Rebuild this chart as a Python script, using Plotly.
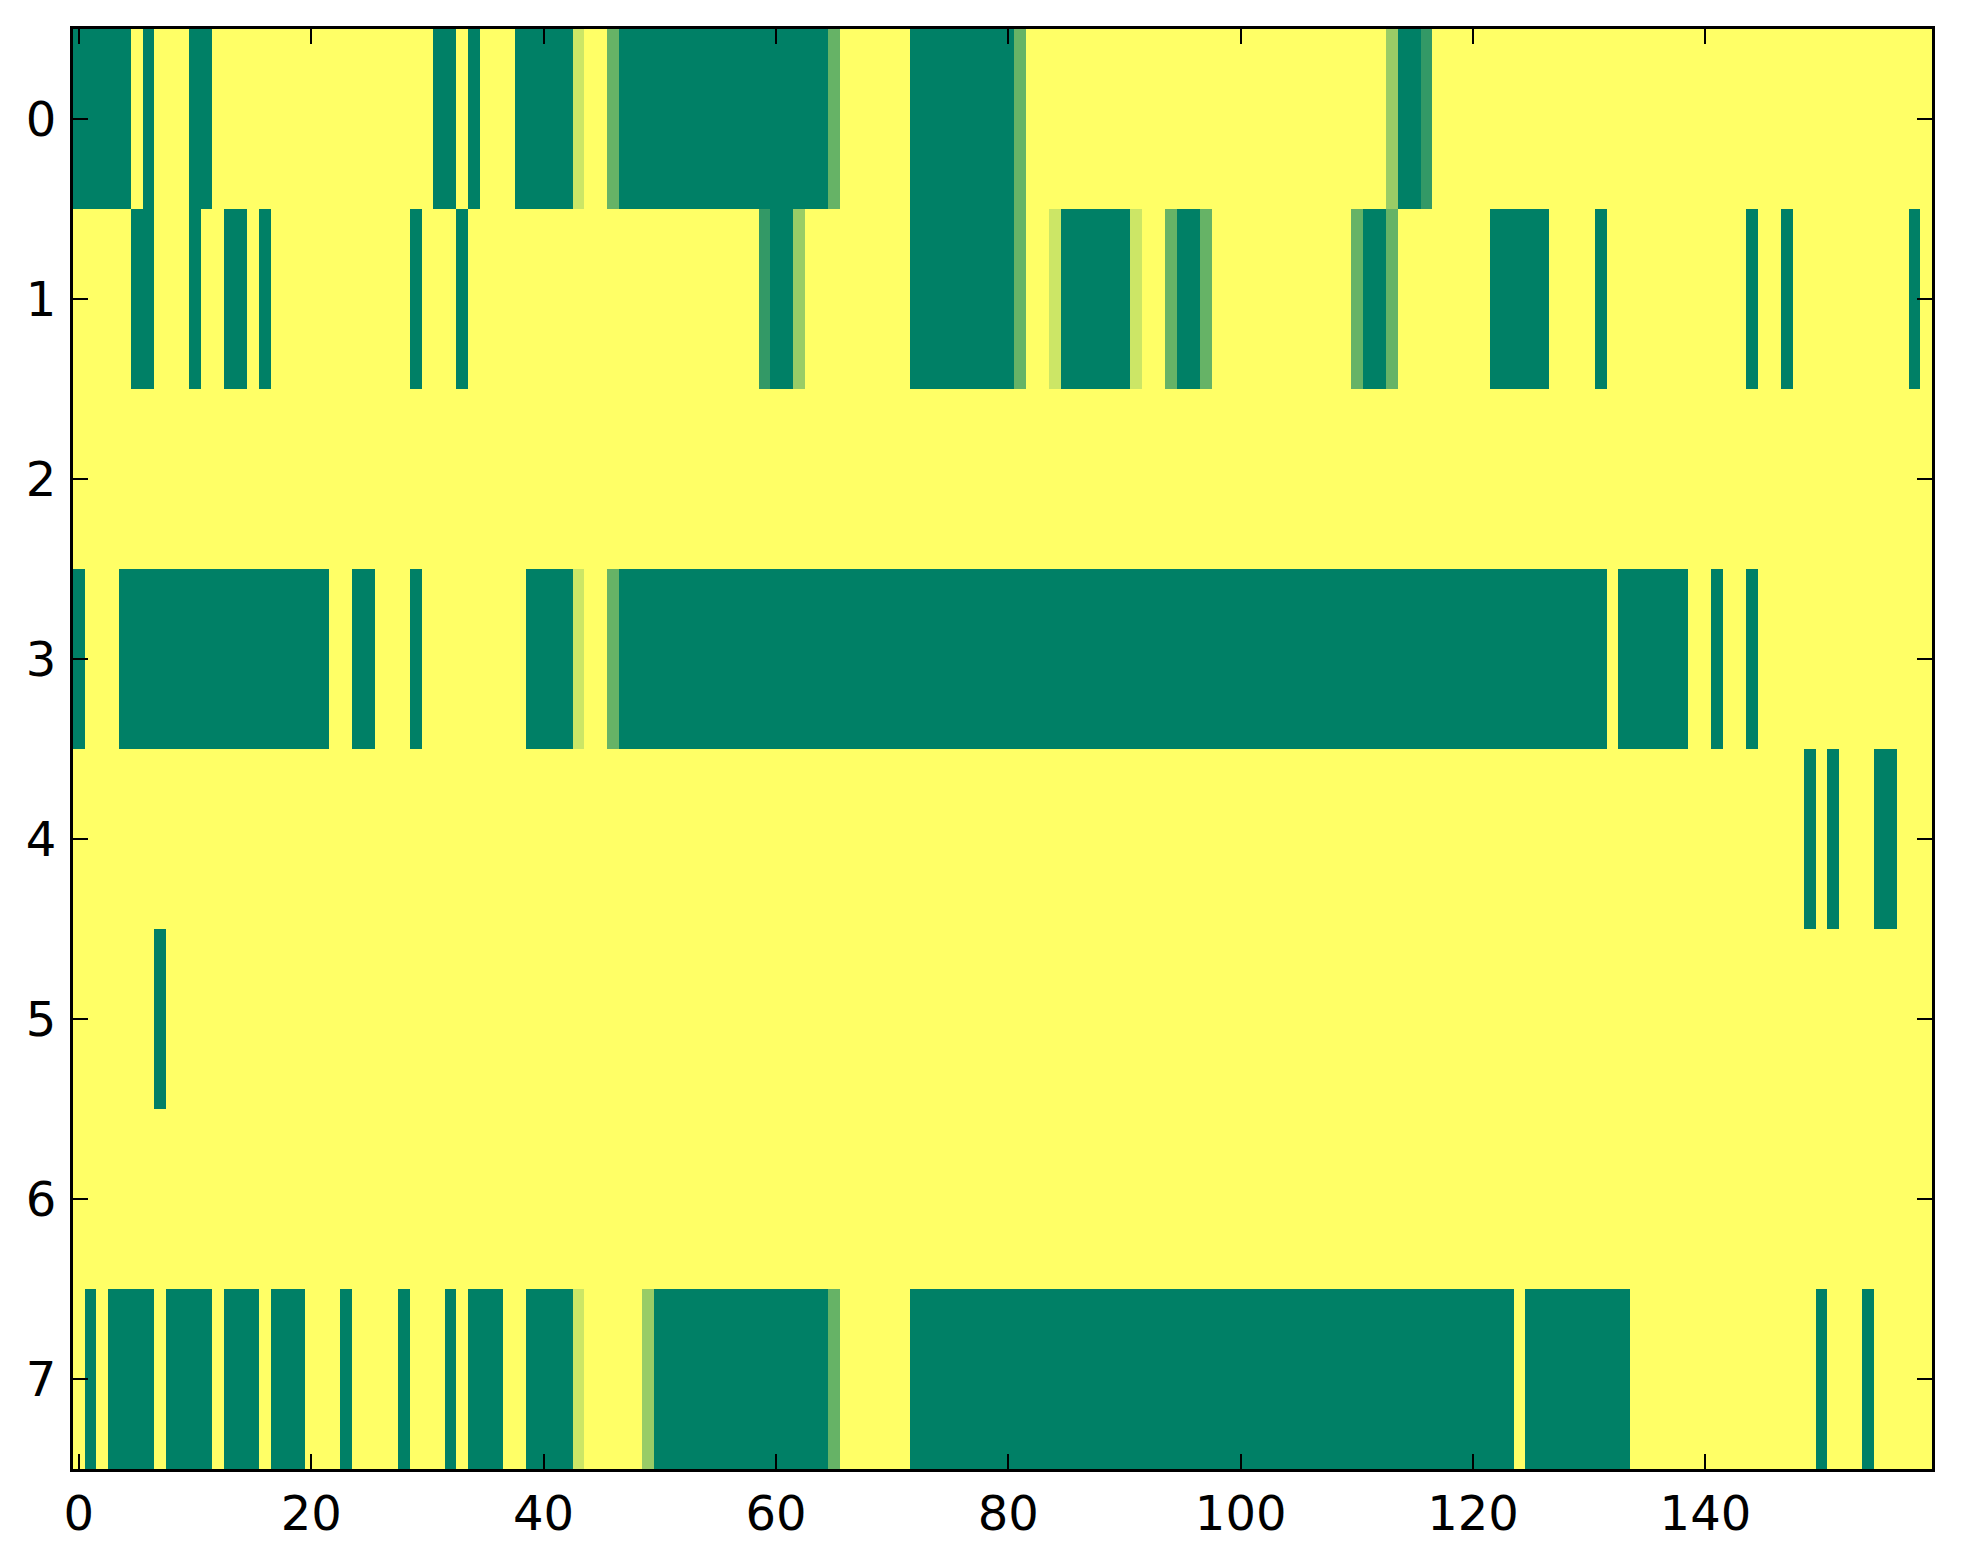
import plotly.graph_objects as go

# Cell values (0 = dark green, 1 = yellow, summer colormap), 8 rows x 160 columns
row0 = [0,0,0,0,0,1,0,1,1,1,0,0,1,1,1,1,1,1,1,1,
        1,1,1,1,1,1,1,1,1,1,1,0,0,1,0,1,1,1,0,0,
        0,0,0,0.8,1,1,0.4,0,0,0,0,0,0,0,0,0,0,0,0,0,
        0,0,0,0,0,0.4,1,1,1,1,1,1,0,0,0,0,0,0,0,0,
        0,0.4,1,1,1,1,1,1,1,1,1,1,1,1,1,1,1,1,1,1,
        1,1,1,1,1,1,1,1,1,1,1,1,1,0.6,0,0,0.2,1,1,1,
        1,1,1,1,1,1,1,1,1,1,1,1,1,1,1,1,1,1,1,1,
        1,1,1,1,1,1,1,1,1,1,1,1,1,1,1,1,1,1,1,1]
row1 = [1,1,1,1,1,0,0,1,1,1,0,1,1,0,0,1,0,1,1,1,
        1,1,1,1,1,1,1,1,1,0,1,1,1,0,1,1,1,1,1,1,
        1,1,1,1,1,1,1,1,1,1,1,1,1,1,1,1,1,1,1,0.2,
        0,0,0.6,1,1,1,1,1,1,1,1,1,0,0,0,0,0,0,0,0,
        0,0.4,1,1,0.8,0,0,0,0,0,0,0.8,1,1,0.4,0,0,0.4,1,1,
        1,1,1,1,1,1,1,1,1,1,0.4,0,0,0.4,1,1,1,1,1,1,
        1,1,0,0,0,0,0,1,1,1,1,0,1,1,1,1,1,1,1,1,
        1,1,1,1,0,1,1,0,1,1,1,1,1,1,1,1,1,1,0,1]
row2 = [1,1,1,1,1,1,1,1,1,1,1,1,1,1,1,1,1,1,1,1,
        1,1,1,1,1,1,1,1,1,1,1,1,1,1,1,1,1,1,1,1,
        1,1,1,1,1,1,1,1,1,1,1,1,1,1,1,1,1,1,1,1,
        1,1,1,1,1,1,1,1,1,1,1,1,1,1,1,1,1,1,1,1,
        1,1,1,1,1,1,1,1,1,1,1,1,1,1,1,1,1,1,1,1,
        1,1,1,1,1,1,1,1,1,1,1,1,1,1,1,1,1,1,1,1,
        1,1,1,1,1,1,1,1,1,1,1,1,1,1,1,1,1,1,1,1,
        1,1,1,1,1,1,1,1,1,1,1,1,1,1,1,1,1,1,1,1]
row3 = [0,1,1,1,0,0,0,0,0,0,0,0,0,0,0,0,0,0,0,0,
        0,0,1,1,0,0,1,1,1,0,1,1,1,1,1,1,1,1,1,0,
        0,0,0,0.8,1,1,0.4,0,0,0,0,0,0,0,0,0,0,0,0,0,
        0,0,0,0,0,0,0,0,0,0,0,0,0,0,0,0,0,0,0,0,
        0,0,0,0,0,0,0,0,0,0,0,0,0,0,0,0,0,0,0,0,
        0,0,0,0,0,0,0,0,0,0,0,0,0,0,0,0,0,0,0,0,
        0,0,0,0,0,0,0,0,0,0,0,0,1,0,0,0,0,0,0,1,
        1,0,1,1,0,1,1,1,1,1,1,1,1,1,1,1,1,1,1,1]
row4 = [1,1,1,1,1,1,1,1,1,1,1,1,1,1,1,1,1,1,1,1,
        1,1,1,1,1,1,1,1,1,1,1,1,1,1,1,1,1,1,1,1,
        1,1,1,1,1,1,1,1,1,1,1,1,1,1,1,1,1,1,1,1,
        1,1,1,1,1,1,1,1,1,1,1,1,1,1,1,1,1,1,1,1,
        1,1,1,1,1,1,1,1,1,1,1,1,1,1,1,1,1,1,1,1,
        1,1,1,1,1,1,1,1,1,1,1,1,1,1,1,1,1,1,1,1,
        1,1,1,1,1,1,1,1,1,1,1,1,1,1,1,1,1,1,1,1,
        1,1,1,1,1,1,1,1,1,0,1,0,1,1,1,0,0,1,1,1]
row5 = [1,1,1,1,1,1,1,0,1,1,1,1,1,1,1,1,1,1,1,1,
        1,1,1,1,1,1,1,1,1,1,1,1,1,1,1,1,1,1,1,1,
        1,1,1,1,1,1,1,1,1,1,1,1,1,1,1,1,1,1,1,1,
        1,1,1,1,1,1,1,1,1,1,1,1,1,1,1,1,1,1,1,1,
        1,1,1,1,1,1,1,1,1,1,1,1,1,1,1,1,1,1,1,1,
        1,1,1,1,1,1,1,1,1,1,1,1,1,1,1,1,1,1,1,1,
        1,1,1,1,1,1,1,1,1,1,1,1,1,1,1,1,1,1,1,1,
        1,1,1,1,1,1,1,1,1,1,1,1,1,1,1,1,1,1,1,1]
row6 = [1,1,1,1,1,1,1,1,1,1,1,1,1,1,1,1,1,1,1,1,
        1,1,1,1,1,1,1,1,1,1,1,1,1,1,1,1,1,1,1,1,
        1,1,1,1,1,1,1,1,1,1,1,1,1,1,1,1,1,1,1,1,
        1,1,1,1,1,1,1,1,1,1,1,1,1,1,1,1,1,1,1,1,
        1,1,1,1,1,1,1,1,1,1,1,1,1,1,1,1,1,1,1,1,
        1,1,1,1,1,1,1,1,1,1,1,1,1,1,1,1,1,1,1,1,
        1,1,1,1,1,1,1,1,1,1,1,1,1,1,1,1,1,1,1,1,
        1,1,1,1,1,1,1,1,1,1,1,1,1,1,1,1,1,1,1,1]
row7 = [1,0,1,0,0,0,0,1,0,0,0,0,1,0,0,0,1,0,0,0,
        1,1,1,0,1,1,1,1,0,1,1,1,0,1,0,0,0,1,1,0,
        0,0,0,0.8,1,1,1,1,1,0.6,0,0,0,0,0,0,0,0,0,0,
        0,0,0,0,0,0.4,1,1,1,1,1,1,0,0,0,0,0,0,0,0,
        0,0,0,0,0,0,0,0,0,0,0,0,0,0,0,0,0,0,0,0,
        0,0,0,0,0,0,0,0,0,0,0,0,0,0,0,0,0,0,0,0,
        0,0,0,0,1,0,0,0,0,0,0,0,0,0,1,1,1,1,1,1,
        1,1,1,1,1,1,1,1,1,1,0,1,1,1,0,1,1,1,1,1]

rows = [row0, row1, row2, row3, row4, row5, row6, row7]
columns = list(range(160))
row_ids = list(range(8))
x_ticks = [0, 20, 40, 60, 80, 100, 120, 140]
y_ticks = [0, 1, 2, 3, 4, 5, 6, 7]

fig = go.Figure(go.Heatmap(
    z=rows, x=columns, y=row_ids,
    colorscale=[[0, '#008066'], [1, '#ffff66']],
    zmin=0, zmax=1, showscale=False, hoverongaps=False,
))

axis_common = dict(
    showline=True, linecolor='black', linewidth=3, mirror='allticks',
    ticks='inside', ticklen=15, tickwidth=1.5, tickcolor='black',
    showgrid=False, zeroline=False,
    tickfont=dict(family='DejaVu Sans', size=48, color='black'),
)

fig.update_layout(
    width=1963, height=1564,
    margin=dict(l=73, r=31, t=29, b=95),
    paper_bgcolor='white', plot_bgcolor='white',
    xaxis=dict(range=[-0.5, 159.5], tickvals=x_ticks,
               ticklabelstandoff=0, **axis_common),
    yaxis=dict(range=[7.5, -0.5], tickvals=y_ticks,
               ticklabelstandoff=4, **axis_common),
)

fig.write_html(
    "out.html",
    config={'displayModeBar': False},
    post_script="document.body.style.margin='0';document.body.style.overflow='hidden';",
)
